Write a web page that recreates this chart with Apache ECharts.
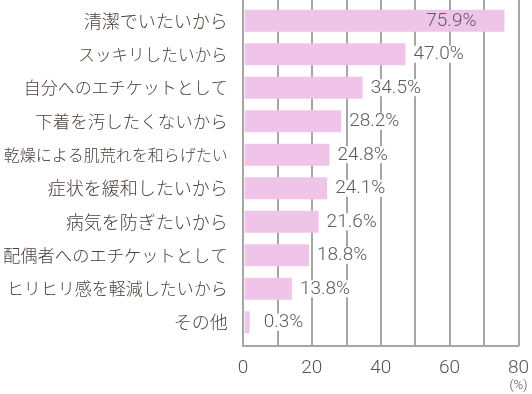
<!DOCTYPE html>
<html><head><meta charset="utf-8">
<script src="https://cdn.jsdelivr.net/npm/echarts@6/dist/echarts.min.js"></script>
<style>html,body{margin:0;padding:0;background:#fff}#c{width:532px;height:394px}</style>
</head><body><div id="c"></div>
<script>
const categories = ['清潔でいたいから','スッキリしたいから','自分へのエチケットとして','下着を汚したくないから','乾燥による肌荒れを和らげたい','症状を緩和したいから','病気を防ぎたいから','配偶者へのエチケットとして','ヒリヒリ感を軽減したいから','その他'];
const values = [75.9, 47.0, 34.5, 28.2, 24.8, 24.1, 21.6, 18.8, 13.8, 0.3];
const xTicks = [0, 20, 40, 60, 80];

const labelFontSizes = [18, 16.6, 17, 17.5, 16, 18, 18, 17.3, 17, 18];

const chart = echarts.init(document.getElementById('c'));
const GL = 243, GW = 275.5;
chart.setOption({
  animation: false,
  grid: [
    {left: GL, top: 4, width: GW, height: 335, containLabel: false},
    {left: GL, top: 0, width: GW, height: 346, containLabel: false}
  ],
  xAxis: [
    {gridIndex: 0, type: 'value', min: 0, max: 80, show: false},
    {gridIndex: 1, type: 'value', min: 0, max: 80, interval: 10,
     axisLine: {show: true, lineStyle: {color: '#a6a6a6', width: 2}},
     axisTick: {show: false},
     splitLine: {show: true, lineStyle: {color: '#a6a6a6', width: 2}},
     axisLabel: {
       margin: 11, color: '#555', fontFamily: 'Roboto', fontWeight: 300, fontSize: 19,
       formatter: v => xTicks.indexOf(v) < 0 ? '' : (v === 80 ? '{a|80}\n{u|(%)}' : '{a|' + v + '}'),
       rich: {
         a: {fontFamily: 'Roboto', fontWeight: 300, fontSize: 19, color: '#555', lineHeight: 22},
         u: {fontFamily: 'Roboto', fontWeight: 300, fontSize: 13, color: '#555', lineHeight: 14}
       }
     }}
  ],
  yAxis: [
    {gridIndex: 0, type: 'category', inverse: true,
     data: categories.map((c, i) => ({value: c, textStyle: {fontSize: labelFontSizes[i]}})),
     axisLine: {show: false}, axisTick: {show: false}, splitLine: {show: false},
     axisLabel: {margin: 17, color: '#4b3f3a', fontSize: 17, fontWeight: 300, fontFamily: 'Noto Sans CJK JP'}},
    {gridIndex: 1, type: 'value', min: 0, max: 1,
     axisLine: {show: true, lineStyle: {color: '#a6a6a6', width: 2}},
     axisTick: {show: false}, axisLabel: {show: false}, splitLine: {show: false}}
  ],
  series: [{
    type: 'bar', xAxisIndex: 0, yAxisIndex: 0, barWidth: 22, barMinHeight: 5, z: 5,
    itemStyle: {color: '#f0c4e8'},
    data: values.map((v, i) => {
      const d = {value: v};
      if (i === 0) d.label = {position: 'insideRight', distance: 27, backgroundColor: 'transparent'};
      if (i === values.length - 1) d.label = {position: 'right', distance: 13};
      return d;
    }),
    label: {show: true, position: 'right', distance: 7, color: '#5c5c5c',
      fontFamily: 'Roboto', fontWeight: 300, fontSize: 19,
      backgroundColor: '#fff', lineHeight: 17, padding: [0, 1],
      formatter: p => p.value.toFixed(1) + '%'}
  }]
});
</script></body></html>
